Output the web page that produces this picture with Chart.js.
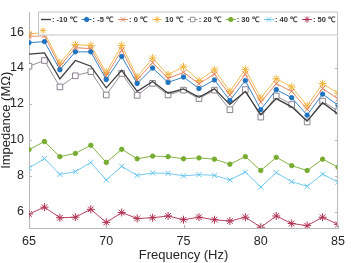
<!DOCTYPE html>
<html>
<head>
<meta charset="utf-8">
<script src="https://cdn.jsdelivr.net/npm/chart.js@4"></script>
<style>
  html, body { margin: 0; padding: 0; background: #fff; }
  #wrap { width: 351px; height: 263px; }
</style>
</head>
<body>
<div id="wrap"><canvas id="impChart" width="351" height="263"></canvas></div>
<script>
// Frecuencias (Hz)
const freq = [65, 66, 67, 68, 69, 70, 71, 72, 73, 74, 75, 76, 77, 78, 79, 80, 81, 82, 83, 84, 85];

// Impedancia (MΩ) por temperatura
const tM10 = [14.77, 14.84, 13.40, 14.42, 14.10, 12.90, 13.87, 12.70, 13.25, 12.60, 12.84, 12.37, 12.84, 11.98, 12.70, 11.40, 12.30, 11.84, 11.05, 12.07, 11.44];
const tM5  = [15.41, 15.47, 13.90, 14.90, 14.90, 13.36, 14.64, 13.14, 14.00, 13.20, 13.50, 12.86, 13.34, 12.20, 13.30, 11.68, 12.80, 12.35, 11.38, 12.55, 11.93];
const t0   = [15.76, 15.79, 14.10, 15.13, 15.08, 13.57, 15.00, 13.34, 14.30, 13.42, 13.76, 13.13, 13.66, 12.50, 13.66, 12.10, 13.13, 12.70, 11.70, 12.86, 12.28];
const t10  = [15.90, 15.97, 14.28, 15.30, 15.26, 13.75, 15.26, 13.50, 14.55, 13.63, 14.07, 13.30, 13.90, 12.70, 13.93, 12.33, 13.40, 12.95, 11.90, 13.13, 12.60];
const t20  = [14.10, 14.42, 12.95, 13.57, 13.80, 12.50, 13.70, 12.48, 13.15, 12.50, 12.77, 12.30, 12.77, 11.68, 12.80, 11.27, 12.45, 11.97, 11.00, 12.16, 11.60];
const t30  = [9.46, 9.91, 9.07, 9.25, 9.70, 8.75, 9.48, 8.95, 9.10, 9.07, 8.95, 9.00, 8.93, 8.65, 9.07, 8.30, 9.03, 8.57, 8.30, 8.93, 8.48];
const t40  = [8.44, 8.96, 8.08, 8.24, 8.74, 7.77, 8.53, 8.03, 8.16, 8.14, 8.00, 8.07, 8.03, 7.77, 8.21, 7.38, 8.18, 7.68, 7.42, 8.10, 7.65];
const t50  = [5.88, 6.26, 5.67, 5.70, 6.14, 5.41, 5.96, 5.63, 5.67, 5.77, 5.56, 5.70, 5.56, 5.49, 5.70, 5.14, 5.77, 5.35, 5.23, 5.70, 5.30];

// Etiquetas
const seriesLabels = [': -10 ℃', ': -5 ℃', ': 0 ℃', ' 10 ℃', ': 20 ℃', ': 30 ℃', ': 40 ℃', ': 50 ℃'];
const xTicks = [65, 70, 75, 80, 85];
const yTicks = [6, 8, 10, 12, 14, 16];

Chart.defaults.font.family = 'Arial, "Liberation Sans", sans-serif';
Chart.defaults.color = '#262626';

const toXY = arr => arr.map((v, i) => ({ x: freq[i], y: v }));

function ds(label, data, color, style, radius, width, fill) {
    return {
        label: label,
        data: toXY(data),
        borderColor: color,
        backgroundColor: fill || color,
        borderWidth: width,
        pointStyle: style,
        pointRadius: style ? radius : 0,
        pointBorderColor: color,
        pointBackgroundColor: fill || color,
        pointBorderWidth: 1,
        tension: 0,
        fill: false
    };
}

// Leyenda dibujada dentro del área del gráfico, con borde
const boxLegend = {
    id: 'boxLegend',
    afterDatasetsDraw(chart) {
        const ctx = chart.ctx;
        const area = chart.chartArea;
        const left = area.left + 9, right = area.right, top = area.top - 1, bottom = area.top + 23;
        ctx.save();
        ctx.fillStyle = '#fff';
        ctx.fillRect(left, top, right - left, bottom - top);
        ctx.strokeStyle = '#c4c4c4';
        ctx.lineWidth = 1;
        ctx.strokeRect(left + 0.5, top + 0.5, right - left - 1, bottom - top - 1);

        ctx.font = 'bold 7.5px Arial, "Liberation Sans", sans-serif';
        ctx.textBaseline = 'middle';
        const sampleW = 10;
        const widths = chart.data.datasets.map(d => ctx.measureText(d.label).width + sampleW + 1);
        const total = widths.reduce((a, b) => a + b, 0);
        const gap = (right - left - 6 - total) / (widths.length - 1);
        let x = left + 3;
        const y = top + 8;
        chart.data.datasets.forEach((d, i) => {
            ctx.strokeStyle = d.borderColor;
            ctx.lineWidth = d.borderWidth;
            ctx.beginPath();
            ctx.moveTo(x, y);
            ctx.lineTo(x + sampleW, y);
            ctx.stroke();
            if (d.pointRadius > 0) {
                ctx.fillStyle = d.pointBackgroundColor;
                Chart.helpers.drawPoint(ctx, {
                    pointStyle: d.pointStyle,
                    radius: Math.min(d.pointRadius, 3.2),
                    borderWidth: 1
                }, x + sampleW / 2, y);
            }
            ctx.fillStyle = '#333';
            ctx.fillText(d.label, x + sampleW + 1, y);
            x += widths[i] + gap;
        });
        // marcador suelto en la segunda fila
        const d10 = chart.data.datasets[3];
        ctx.strokeStyle = d10.borderColor;
        ctx.fillStyle = d10.borderColor;
        Chart.helpers.drawPoint(ctx, { pointStyle: 'star', radius: 3.2, borderWidth: 1 }, left + 5, top + 19);
        ctx.restore();
    }
};

// Marco y marcas de graduación hacia dentro
const frame = {
    id: 'frame',
    afterDraw(chart) {
        const ctx = chart.ctx;
        const a = chart.chartArea;
        const xs = chart.scales.x, ys = chart.scales.y;
        ctx.save();
        ctx.strokeStyle = '#b8b8b8';
        ctx.lineWidth = 1;
        ctx.beginPath();
        ctx.moveTo(a.right - 0.5, a.top + 24);
        ctx.lineTo(a.right - 0.5, a.bottom);
        ctx.stroke();
        ctx.beginPath();
        yTicks.forEach(v => {
            const py = Math.round(ys.getPixelForValue(v)) + 0.5;
            ctx.moveTo(a.left, py); ctx.lineTo(a.left + 3, py);
            if (py > a.top + 24) { ctx.moveTo(a.right, py); ctx.lineTo(a.right - 3, py); }
        });
        xTicks.forEach(v => {
            const px = Math.round(xs.getPixelForValue(v)) + 0.5;
            ctx.moveTo(px, a.bottom); ctx.lineTo(px, a.bottom - 3);
        });
        ctx.stroke();
        ctx.restore();
    }
};

new Chart(document.getElementById('impChart'), {
    type: 'line',
    data: {
        datasets: [
            ds(seriesLabels[0], tM10, '#3c3c3c', false, 0, 1.3),
            ds(seriesLabels[1], tM5,  '#1f74bf', 'circle', 2.2, 0.9),
            ds(seriesLabels[2], t0,   '#e07a55', 'crossRot', 3.6, 0.9),
            ds(seriesLabels[3], t10,  '#f0b43c', 'star', 4, 0.9),
            ds(seriesLabels[4], t20,  '#8a8490', 'rect', 4, 0.9, '#ffffff'),
            ds(seriesLabels[5], t30,  '#77ac30', 'circle', 2.2, 0.9),
            ds(seriesLabels[6], t40,  '#63c3ec', 'crossRot', 3.6, 0.9),
            ds(seriesLabels[7], t50,  '#b03050', 'star', 4, 0.9)
        ]
    },
    options: {
        responsive: false,
        animation: false,
        layout: { padding: { top: 2, right: 8, left: 0, bottom: 0 } },
        plugins: {
            legend: { display: false },
            tooltip: { enabled: false }
        },
        scales: {
            x: {
                type: 'linear',
                min: 65,
                max: 85,
                afterBuildTicks: s => { s.ticks = xTicks.map(v => ({ value: v })); },
                afterFit: s => { s.height = 35; },
                grid: { display: false, drawTicks: false },
                border: { display: true, color: '#b8b8b8' },
                ticks: { padding: 6, font: { size: 12.5 }, color: '#262626' },
                title: {
                    display: true,
                    text: 'Frequency (Hz)',
                    font: { size: 13 },
                    color: '#262626',
                    padding: { top: 0, bottom: 0 }
                }
            },
            y: {
                min: 5.1,
                max: 17.09,
                afterBuildTicks: s => { s.ticks = yTicks.map(v => ({ value: v })); },
                afterFit: s => { s.width = 29; },
                grid: { display: false, drawTicks: false },
                border: { display: true, color: '#b8b8b8' },
                ticks: { padding: 5, font: { size: 12.5 }, color: '#262626' },
                title: {
                    display: true,
                    text: 'Impedance (MΩ)',
                    font: { size: 13, lineHeight: 1 },
                    color: '#262626',
                    padding: { top: 0, bottom: 0 }
                }
            }
        }
    },
    plugins: [boxLegend, frame]
});
</script>
</body>
</html>
